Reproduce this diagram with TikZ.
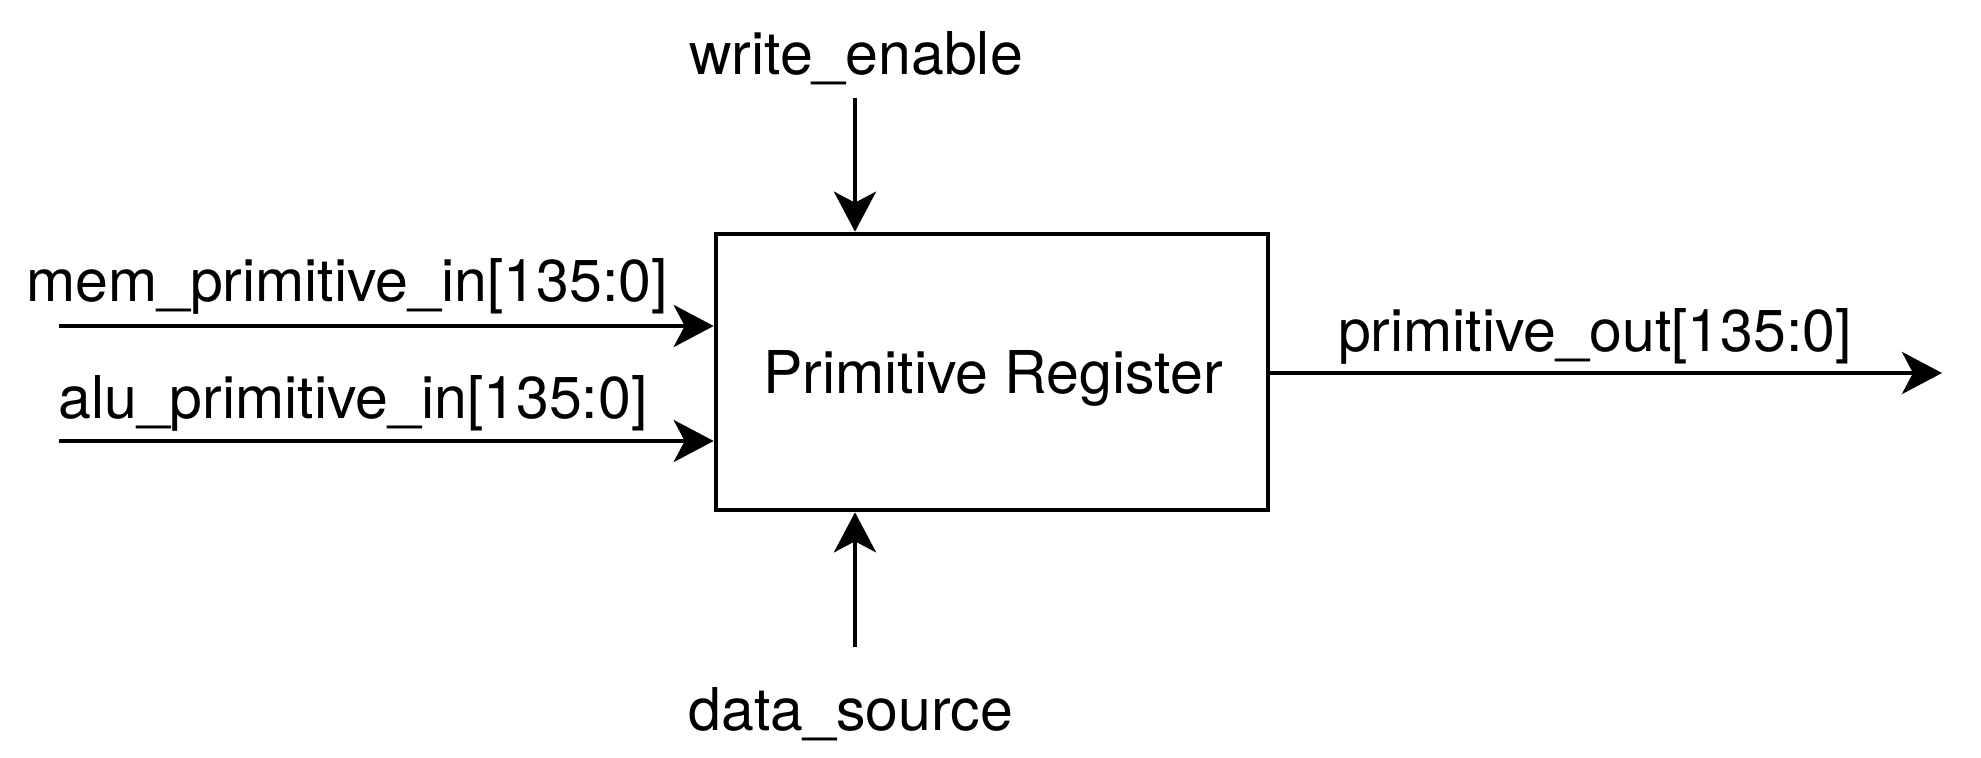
\documentclass[tikz,border=0pt]{standalone}
\usepackage{fontspec}
\setmainfont{TeX Gyre Heros}
\usetikzlibrary{arrows.meta,calc}
\begin{document}
\begin{tikzpicture}[x=0.5pt,y=-0.5pt,
  sig/.style={font=\fontsize{29.5}{35}\selectfont, inner sep=0pt, anchor=base},
  wire/.style={line width=2.3pt, -{Stealth[length=20pt,width=21pt,inset=5.5pt]}},
  regbox/.style={draw, line width=2.3pt, minimum width=276pt, minimum height=138pt, inner sep=0pt, font=\fontsize{29.5}{35}\selectfont}]
\useasboundingbox (0,0) rectangle (1981,758);
\node[regbox] (reg) at (992,372) {};
\node[sig] (regl) at (993,394) {Primitive Register};
\node[sig] (we) at (856,75) {write\_enable};
\node[sig] (ds) at (851,730) {data\_source};
\node[sig] (mem) at (347,302) {mem\_primitive\_in[135:0]};
\node[sig] (alu) at (353,419) {alu\_primitive\_in[135:0]};
\node[sig] (po) at (1595,352) {primitive\_out[135:0]};
\coordinate (weS) at (855,98);
\coordinate (dsS) at (855,647);
\coordinate (memS) at (59,326);
\coordinate (aluS) at (59,441);
\coordinate (poE) at (1942,373);
\draw[wire] (weS) -- (weS |- reg.north);
\draw[wire] (dsS) -- (dsS |- reg.south);
\draw[wire] (memS) -- (memS -| reg.west);
\draw[wire] (aluS) -- (aluS -| reg.west);
\draw[wire] (reg.east |- poE) -- (poE);
\end{tikzpicture}
\end{document}
